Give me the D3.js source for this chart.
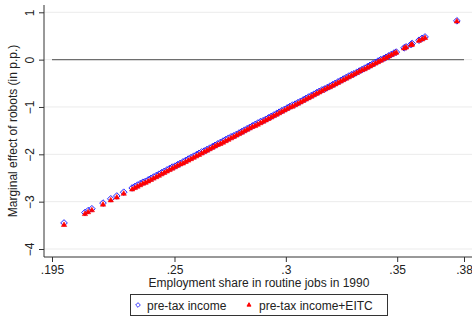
<!DOCTYPE html>
<html>
<head>
<meta charset="utf-8">
<script src="https://cdn.jsdelivr.net/npm/d3@7"></script>
<style>
  html, body { margin: 0; padding: 0; background: #fff; }
  svg { display: block; font-family: "Liberation Sans", Arial, sans-serif; }
</style>
</head>
<body>
<svg id="chart" width="472" height="320"></svg>
<script>
// Employment share in routine jobs in 1990 (one value per commuting zone)
const routineShare = [
  0.2004, 0.2098, 0.2112, 0.2129, 0.2179, 0.2214, 0.2241, 0.2272,
  0.2310, 0.2322, 0.2334, 0.2346, 0.2358, 0.2370, 0.2382, 0.2394, 0.2406, 0.2418,
  0.2430, 0.2442, 0.2454, 0.2466, 0.2478, 0.2490, 0.2502, 0.2514, 0.2526, 0.2538,
  0.2550, 0.2562, 0.2574, 0.2586, 0.2598, 0.2610, 0.2622, 0.2634, 0.2646, 0.2658,
  0.2670, 0.2682, 0.2694, 0.2706, 0.2718, 0.2730, 0.2742, 0.2754, 0.2766, 0.2778,
  0.2790, 0.2802, 0.2814, 0.2826, 0.2838, 0.2850, 0.2862, 0.2874, 0.2886, 0.2898,
  0.2910, 0.2922, 0.2934, 0.2946, 0.2958, 0.2970, 0.2982, 0.2994, 0.3006, 0.3018,
  0.3030, 0.3042, 0.3054, 0.3066, 0.3078, 0.3090, 0.3102, 0.3114, 0.3126, 0.3138,
  0.3150, 0.3162, 0.3174, 0.3186, 0.3198, 0.3210, 0.3222, 0.3234, 0.3246, 0.3258,
  0.3270, 0.3282, 0.3294, 0.3306, 0.3318, 0.3330, 0.3342, 0.3354, 0.3366, 0.3378,
  0.3390, 0.3402, 0.3414, 0.3426, 0.3438, 0.3450, 0.3462, 0.3474, 0.3486, 0.3496,
  0.3531, 0.3540, 0.3562, 0.3567, 0.3598, 0.3612, 0.3625, 0.3768
];

// Marginal effect of robots, pre-tax income (p.p.)
const effectPreTax = [
  -3.45, -3.23, -3.19, -3.15, -3.03, -2.94, -2.88, -2.80,
  -2.71, -2.68, -2.65, -2.62, -2.59, -2.57, -2.54, -2.51, -2.48, -2.45,
  -2.42, -2.39, -2.36, -2.33, -2.30, -2.27, -2.25, -2.22, -2.19, -2.16,
  -2.13, -2.10, -2.07, -2.04, -2.01, -1.98, -1.95, -1.93, -1.90, -1.87,
  -1.84, -1.81, -1.78, -1.75, -1.72, -1.69, -1.66, -1.63, -1.61, -1.58,
  -1.55, -1.52, -1.49, -1.46, -1.43, -1.40, -1.37, -1.34, -1.31, -1.29,
  -1.26, -1.23, -1.20, -1.17, -1.14, -1.11, -1.08, -1.05, -1.02, -0.99,
  -0.96, -0.94, -0.91, -0.88, -0.85, -0.82, -0.79, -0.76, -0.73, -0.70,
  -0.67, -0.64, -0.62, -0.59, -0.56, -0.53, -0.50, -0.47, -0.44, -0.41,
  -0.38, -0.35, -0.32, -0.30, -0.27, -0.24, -0.21, -0.18, -0.15, -0.12,
  -0.09, -0.06, -0.03, 0.00, 0.02, 0.05, 0.08, 0.11, 0.14, 0.16,
  0.25, 0.27, 0.32, 0.34, 0.41, 0.45, 0.48, 0.82
];

// Marginal effect of robots, pre-tax income + EITC (p.p.)
const effectEITC = [
  -3.48, -3.25, -3.21, -3.17, -3.05, -2.96, -2.90, -2.82,
  -2.73, -2.70, -2.67, -2.64, -2.61, -2.59, -2.56, -2.53, -2.50, -2.47,
  -2.44, -2.41, -2.38, -2.35, -2.32, -2.29, -2.26, -2.23, -2.20, -2.18,
  -2.15, -2.12, -2.09, -2.06, -2.03, -2.00, -1.97, -1.94, -1.91, -1.88,
  -1.85, -1.82, -1.79, -1.77, -1.74, -1.71, -1.68, -1.65, -1.62, -1.59,
  -1.56, -1.53, -1.50, -1.47, -1.44, -1.41, -1.39, -1.36, -1.33, -1.30,
  -1.27, -1.24, -1.21, -1.18, -1.15, -1.12, -1.09, -1.06, -1.03, -1.00,
  -0.98, -0.95, -0.92, -0.89, -0.86, -0.83, -0.80, -0.77, -0.74, -0.71,
  -0.68, -0.65, -0.62, -0.59, -0.57, -0.54, -0.51, -0.48, -0.45, -0.42,
  -0.39, -0.36, -0.33, -0.30, -0.27, -0.24, -0.21, -0.19, -0.16, -0.13,
  -0.10, -0.07, -0.04, -0.01, 0.02, 0.05, 0.08, 0.11, 0.14, 0.16,
  0.25, 0.27, 0.32, 0.33, 0.41, 0.44, 0.47, 0.82
];

const xTicks = [0.195, 0.25, 0.3, 0.35, 0.38];
const xTickLabels = [".195", ".25", ".3", ".35", ".38"];
const yTicks = [-4, -3, -2, -1, 0, 1];

const seriesNames = ["pre-tax income", "pre-tax income+EITC"];
const seriesColors = ["#2222ff", "#ff0000"];

const svg = d3.select("#chart");
const W = 472;
const FONT = 12;

const axisLeft = 44, axisBottom = 257, axisTop = 5;

const x = d3.scaleLinear().domain([0.195, 0.38]).range([52, 464]);
const y = d3.scaleLinear().domain([-4, 1]).range([249, 12.3]);

// horizontal grid lines
svg.append("g").selectAll("line").data(yTicks).join("line")
  .attr("x1", axisLeft).attr("x2", W)
  .attr("y1", d => y(d)).attr("y2", d => y(d))
  .attr("stroke", "#ebebeb").attr("stroke-width", 1);

// reference line at zero
svg.append("line")
  .attr("x1", x(0.195)).attr("x2", x(0.38))
  .attr("y1", y(0)).attr("y2", y(0))
  .attr("stroke", "#6e6e6e").attr("stroke-width", 1.4);

// y axis
const yAxis = d3.axisLeft(y).tickValues(yTicks).tickSize(5).tickFormat(d3.format("d"));
const gy = svg.append("g").attr("transform", `translate(${axisLeft},0)`).call(yAxis);
gy.select(".domain").remove();
gy.append("line").attr("x1", 0).attr("x2", 0).attr("y1", axisTop).attr("y2", axisBottom)
  .attr("stroke", "#333").attr("stroke-width", 1);
gy.selectAll(".tick line").attr("stroke", "#333");
gy.selectAll(".tick text")
  .attr("x", 0).attr("y", 0).attr("dy", 0)
  .attr("transform", "translate(-10,0) rotate(-90)")
  .attr("text-anchor", "middle")
  .attr("font-size", FONT).attr("fill", "#222")
  .attr("font-family", "Liberation Sans, Arial, sans-serif");

// x axis
const xAxis = d3.axisBottom(x).tickValues(xTicks).tickSize(5)
  .tickFormat((d, i) => xTickLabels[i]);
const gx = svg.append("g").attr("transform", `translate(0,${axisBottom})`).call(xAxis);
gx.select(".domain").remove();
gx.append("line").attr("x1", axisLeft).attr("x2", W).attr("y1", 0).attr("y2", 0)
  .attr("stroke", "#333").attr("stroke-width", 1);
gx.selectAll(".tick line").attr("stroke", "#333");
gx.selectAll(".tick text")
  .attr("y", 0).attr("dy", null)
  .attr("transform", "translate(0,17)")
  .attr("font-size", FONT).attr("fill", "#222")
  .attr("font-family", "Liberation Sans, Arial, sans-serif");

// axis titles
svg.append("text")
  .attr("transform", `translate(17,${(axisTop + axisBottom) / 2}) rotate(-90)`)
  .attr("text-anchor", "middle")
  .attr("font-size", FONT).attr("fill", "#222")
  .text("Marginal effect of robots (in p.p.)");

svg.append("text")
  .attr("x", 259).attr("y", 287)
  .attr("text-anchor", "middle")
  .attr("font-size", FONT).attr("fill", "#222")
  .text("Employment share in routine jobs in 1990");

// markers
const diamond = d3.symbol().type(d3.symbolDiamond2).size(28);
const triangle = d3.symbol().type(d3.symbolTriangle).size(12);

const pointsPre = routineShare.map((v, i) => [v, effectPreTax[i]]);
const pointsEitc = routineShare.map((v, i) => [v, effectEITC[i]]);

svg.append("g").selectAll("path").data(pointsPre).join("path")
  .attr("d", diamond)
  .attr("transform", d => `translate(${x(d[0])},${y(d[1])})`)
  .attr("fill", "none").attr("stroke", seriesColors[0]).attr("stroke-width", 1);

svg.append("g").selectAll("path").data(pointsEitc).join("path")
  .attr("d", triangle)
  .attr("transform", d => `translate(${x(d[0])},${y(d[1]) + 0.6})`)
  .attr("fill", seriesColors[1]).attr("stroke", seriesColors[1]).attr("stroke-width", 0.6);

// legend
const legendDiamond = d3.symbol().type(d3.symbolDiamond2).size(14);
const legendTriangle = d3.symbol().type(d3.symbolTriangle).size(7);
const legend = svg.append("g");
legend.append("rect")
  .attr("x", 130.5).attr("y", 294.5).attr("width", 257).attr("height", 21)
  .attr("fill", "#fff").attr("stroke", "#333").attr("stroke-width", 1);
const legendItems = [
  { sym: legendDiamond, mx: 138, tx: 147, fill: "none", stroke: seriesColors[0] },
  { sym: legendTriangle, mx: 249, tx: 259, fill: seriesColors[1], stroke: seriesColors[1] }
];
legendItems.forEach((it, i) => {
  legend.append("path").attr("d", it.sym)
    .attr("transform", `translate(${it.mx},305)`)
    .attr("fill", it.fill).attr("stroke", it.stroke).attr("stroke-width", 0.9);
  legend.append("text")
    .attr("x", it.tx).attr("y", 309.5)
    .attr("font-size", FONT).attr("fill", "#222")
    .text(seriesNames[i]);
});
</script>
</body>
</html>
